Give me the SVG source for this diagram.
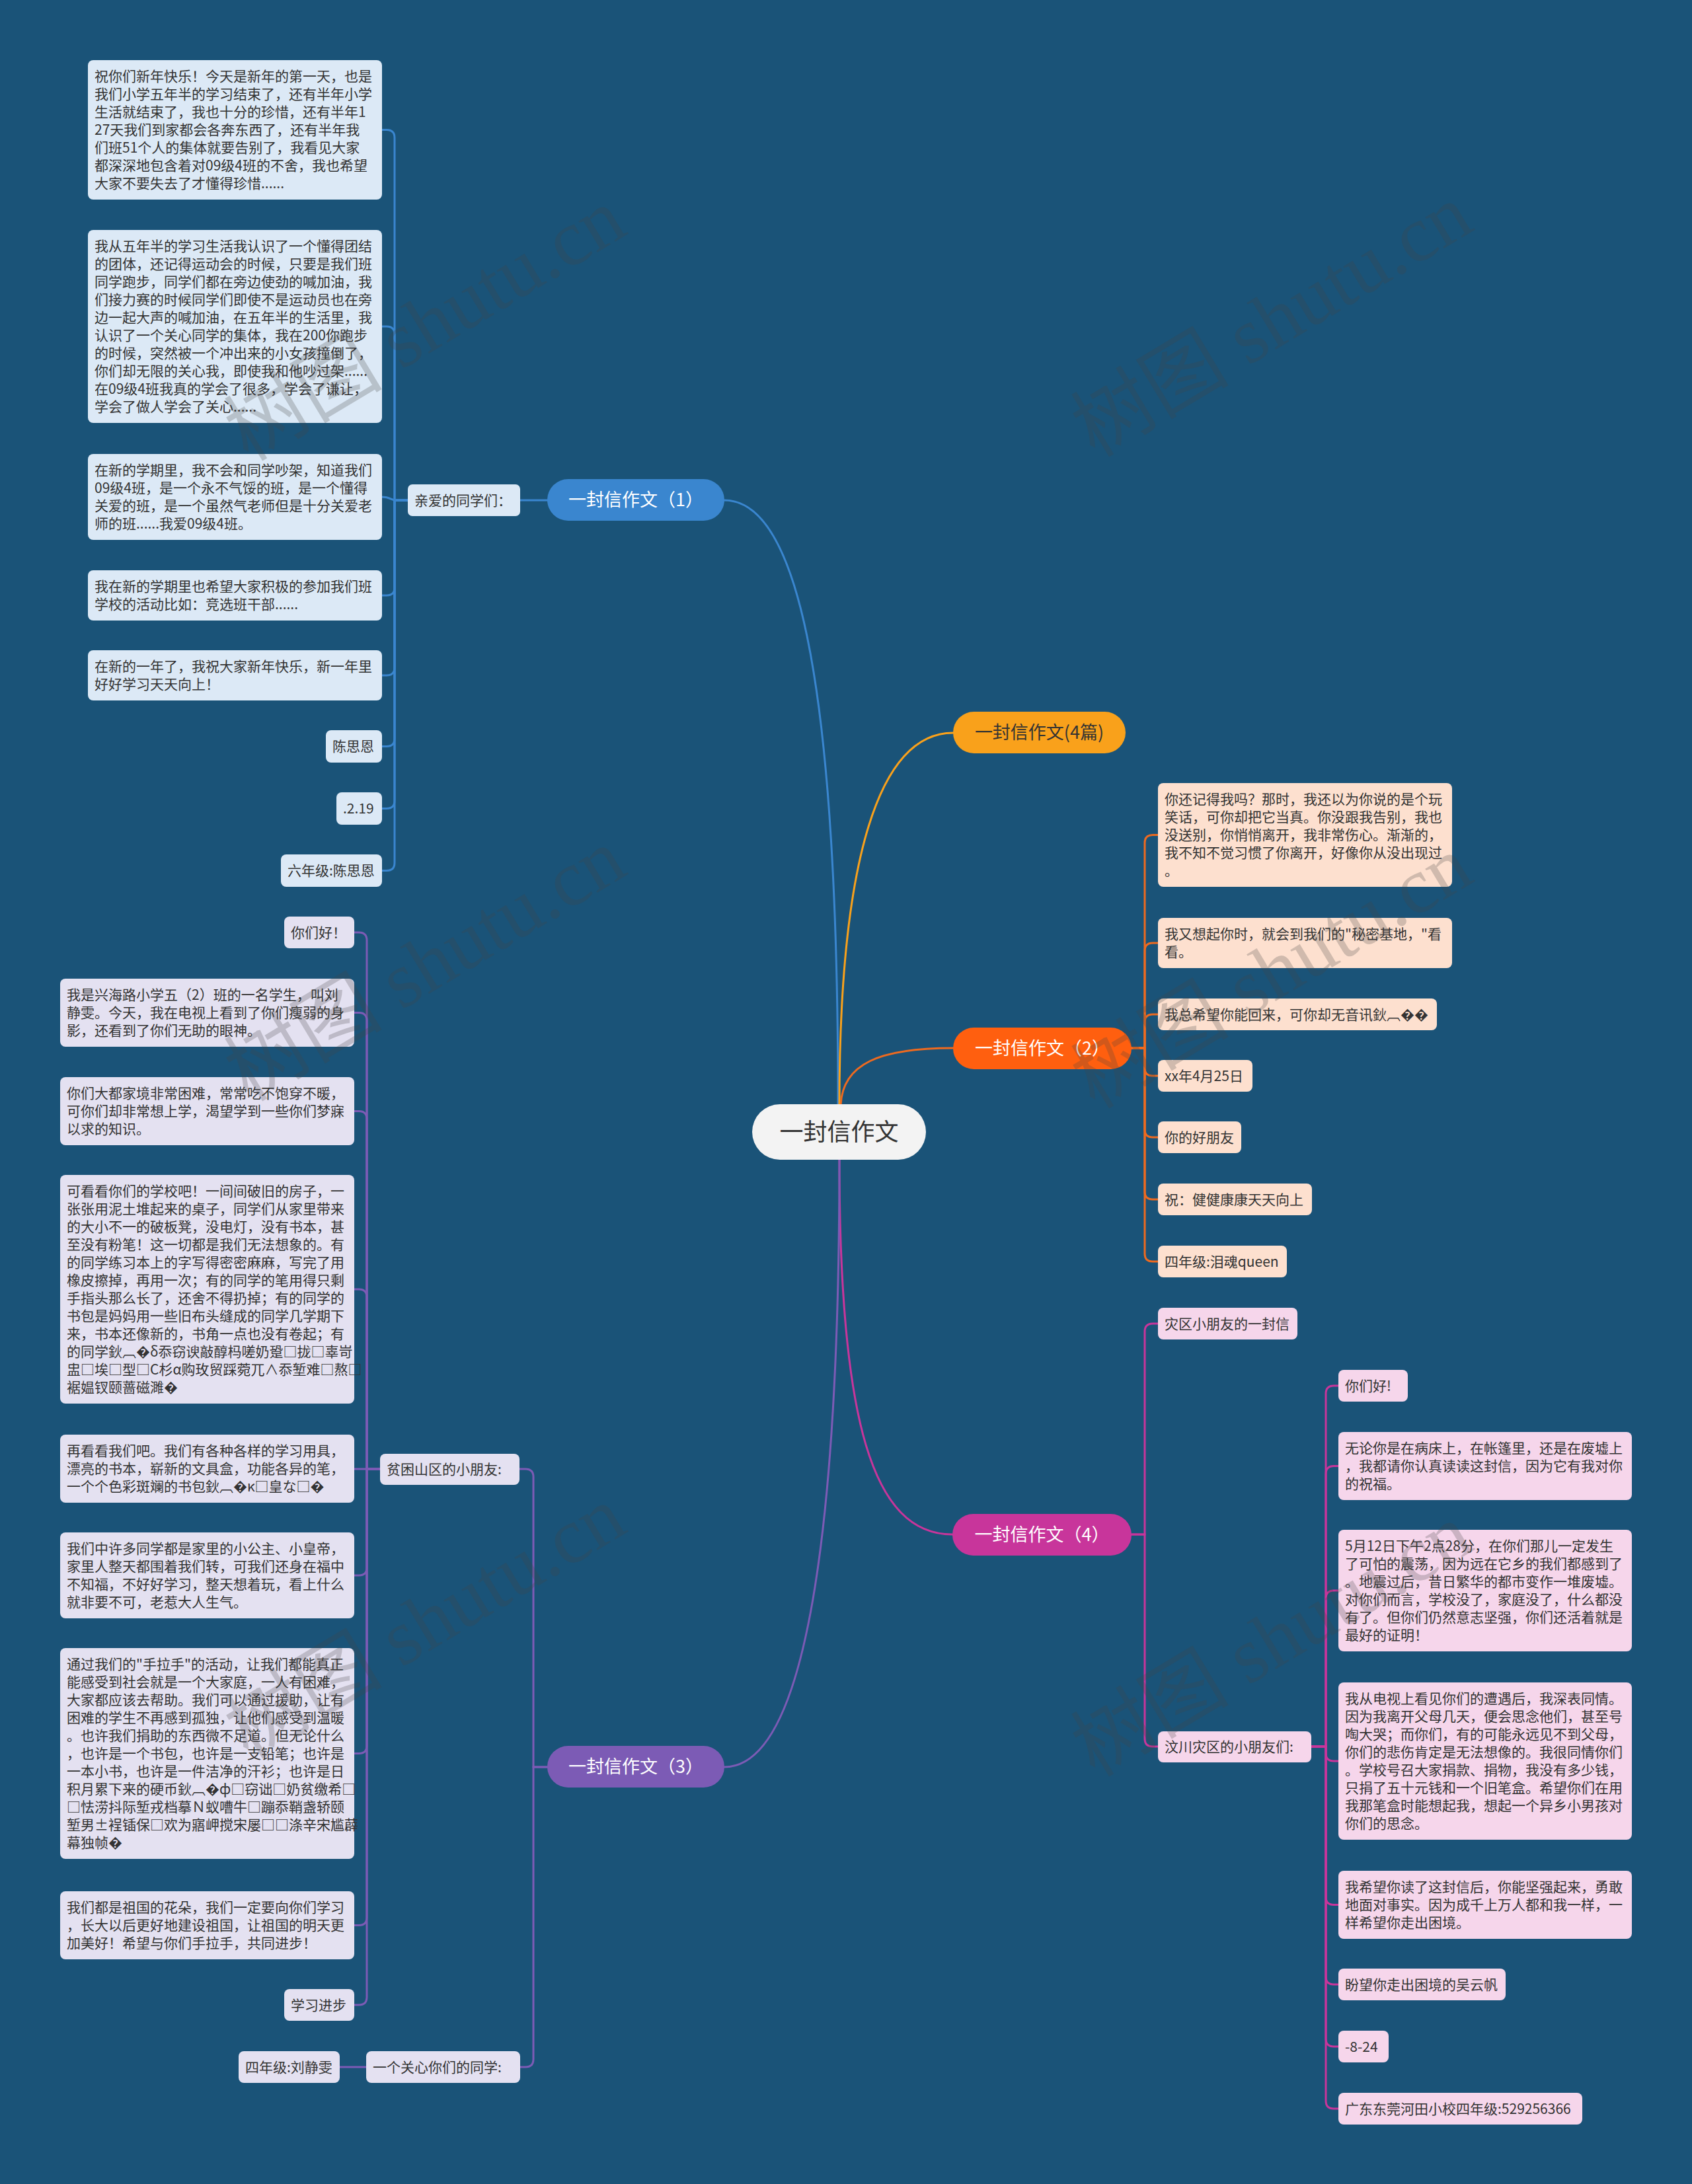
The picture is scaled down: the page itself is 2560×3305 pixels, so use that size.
<svg xmlns="http://www.w3.org/2000/svg" width="2560" height="3305" viewBox="0 0 2560 3305">
<style>
.t{font-family:'Noto Sans CJK SC','Noto Sans',sans-serif;font-size:21px;fill:#333}
.bt{font-family:'Noto Sans CJK SC','Noto Sans',sans-serif;font-size:27px;text-anchor:middle}
.c{fill:none;stroke-width:3;stroke-linecap:round}
.lb{fill:#dce9f6}.lo{fill:#fde0cf}.lm{fill:#f6d6eb}.lp{fill:#e4e1f1}
.wm{font-family:'Liberation Serif','Noto Sans CJK SC',serif;font-size:120px;fill:#444;opacity:0.24;text-anchor:middle}
</style>
<rect width="2560" height="3305" fill="#1a5378"/>
<g id="connectors">
<path class="c" stroke="#3a86cf" d="M1096 757C1200 757 1268 1000 1268 1672"/>
<path class="c" stroke="#f9a11b" d="M1442 1109C1330 1109 1270 1300 1270 1672"/>
<path class="c" stroke="#ee6a1f" d="M1442 1586C1330 1586 1275 1610 1272 1672"/>
<path class="c" stroke="#c8359b" d="M1270 1755C1270 2150 1320 2322 1441 2322"/>
<path class="c" stroke="#7c5bb5" d="M1270 1755C1270 2250 1230 2674 1096 2674"/>
<g stroke="#3a86cf" class="c">
<path class="c" d="M828 757H787"/>
<path class="c" d="M617 757H597V208.5Q597 196.5 585 196.5H578"/>
<path class="c" d="M617 757H597V506Q597 494 585 494H578"/>
<path class="c" d="M617 757H600C590 757 592 752 578 752"/>
<path class="c" d="M617 757H597V889Q597 901 585 901H578"/>
<path class="c" d="M617 757H597V1010Q597 1022 585 1022H578"/>
<path class="c" d="M617 757H597V1117.5Q597 1129.5 585 1129.5H578"/>
<path class="c" d="M617 757H597V1211.5Q597 1223.5 585 1223.5H578"/>
<path class="c" d="M617 757H597V1305.5Q597 1317.5 585 1317.5H578"/>
</g>
<g stroke="#ee6a1f" class="c">
<path class="c" d="M1712 1586H1732V1275.5Q1732 1263.5 1744 1263.5H1752"/>
<path class="c" d="M1712 1586H1732V1439Q1732 1427 1744 1427H1752"/>
<path class="c" d="M1712 1586H1732V1547Q1732 1535 1744 1535H1752"/>
<path class="c" d="M1712 1586H1732V1616Q1732 1628 1744 1628H1752"/>
<path class="c" d="M1712 1586H1732V1709Q1732 1721 1744 1721H1752"/>
<path class="c" d="M1712 1586H1732V1803Q1732 1815 1744 1815H1752"/>
<path class="c" d="M1712 1586H1732V1897Q1732 1909 1744 1909H1752"/>
</g>
<g stroke="#c8359b" class="c">
<path class="c" d="M1712 2322H1732V2015Q1732 2003 1744 2003H1752"/>
<path class="c" d="M1712 2322H1732V2631Q1732 2643 1744 2643H1752"/>
<path class="c" d="M1984 2643H2006V2109Q2006 2097 2018 2097H2025"/>
<path class="c" d="M1984 2643H2006V2230.5Q2006 2218.5 2018 2218.5H2025"/>
<path class="c" d="M1984 2643H2006V2419Q2006 2407 2018 2407H2025"/>
<path class="c" d="M1984 2643H2006V2653Q2006 2665 2018 2665H2025"/>
<path class="c" d="M1984 2643H2006V2870.5Q2006 2882.5 2018 2882.5H2025"/>
<path class="c" d="M1984 2643H2006V2991Q2006 3003 2018 3003H2025"/>
<path class="c" d="M1984 2643H2006V3085Q2006 3097 2018 3097H2025"/>
<path class="c" d="M1984 2643H2006V3179Q2006 3191 2018 3191H2025"/>
</g>
<g stroke="#7c5bb5" class="c">
<path class="c" d="M828 2674H807V2235Q807 2223 795 2223H786"/>
<path class="c" d="M828 2674H807V3116Q807 3128 795 3128H787"/>
<path class="c" d="M554 3128H514"/>
<path class="c" d="M575 2223H555V1423Q555 1411 543 1411H536"/>
<path class="c" d="M575 2223H555V1544.5Q555 1532.5 543 1532.5H536"/>
<path class="c" d="M575 2223H555V1693.5Q555 1681.5 543 1681.5H536"/>
<path class="c" d="M575 2223H555V1963Q555 1951 543 1951H536"/>
<path class="c" d="M575 2223H536"/>
<path class="c" d="M575 2223H555V2372Q555 2384 543 2384H536"/>
<path class="c" d="M575 2223H555V2641.5Q555 2653.5 543 2653.5H536"/>
<path class="c" d="M575 2223H555V2901.5Q555 2913.5 543 2913.5H536"/>
<path class="c" d="M575 2223H555V3022Q555 3034 543 3034H536"/>
</g>
</g>
<g id="root"><rect x="1138" y="1671" width="263" height="84" rx="42" fill="#f3f3f3"/><text x="1269.5" y="1726" font-family="'Noto Sans CJK SC',sans-serif" font-size="36" fill="#333" text-anchor="middle">一封信作文</text></g>
<g id="br1"><rect x="828" y="725" width="268" height="63" rx="31.5" fill="#3a86cf"/><text class="bt" x="962" y="766" fill="#fff">一封信作文（1）</text></g>
<g id="br0"><rect x="1442" y="1077" width="261" height="63" rx="31.5" fill="#f9a11b"/><text class="bt" x="1572.5" y="1118" fill="#333">一封信作文(4篇)</text></g>
<g id="br2"><rect x="1442" y="1555" width="270" height="63" rx="31.5" fill="#ff5f0f"/><text class="bt" x="1577" y="1596" fill="#fff">一封信作文（2）</text></g>
<g id="br4"><rect x="1441" y="2291" width="271" height="63" rx="31.5" fill="#c8359b"/><text class="bt" x="1576.5" y="2332" fill="#fff">一封信作文（4）</text></g>
<g id="br3"><rect x="828" y="2642" width="268" height="63" rx="31.5" fill="#7c5bb5"/><text class="bt" x="962" y="2683" fill="#fff">一封信作文（3）</text></g>

<g id="b1-sub"><rect class="lb" x="617" y="733" width="170" height="48" rx="7"/><text class="t" x="627" y="765">亲爱的同学们：</text></g>
<g id="b1a"><rect class="lb" x="133" y="91" width="445" height="211" rx="8"/><text class="t"><tspan x="143" y="123">祝你们新年快乐！今天是新年的第一天，也是</tspan><tspan x="143" y="150">我们小学五年半的学习结束了，还有半年小学</tspan><tspan x="143" y="177">生活就结束了，我也十分的珍惜，还有半年1</tspan><tspan x="143" y="204">27天我们到家都会各奔东西了，还有半年我</tspan><tspan x="143" y="231">们班51个人的集体就要告别了，我看见大家</tspan><tspan x="143" y="258">都深深地包含着对09级4班的不舍，我也希望</tspan><tspan x="143" y="285">大家不要失去了才懂得珍惜......</tspan></text></g>
<g id="b1b"><rect class="lb" x="133" y="348" width="445" height="292" rx="8"/><text class="t"><tspan x="143" y="380">我从五年半的学习生活我认识了一个懂得团结</tspan><tspan x="143" y="407">的团体，还记得运动会的时候，只要是我们班</tspan><tspan x="143" y="434">同学跑步，同学们都在旁边使劲的喊加油，我</tspan><tspan x="143" y="461">们接力赛的时候同学们即使不是运动员也在旁</tspan><tspan x="143" y="488">边一起大声的喊加油，在五年半的生活里，我</tspan><tspan x="143" y="515">认识了一个关心同学的集体，我在200你跑步</tspan><tspan x="143" y="542">的时候，突然被一个冲出来的小女孩撞倒了，</tspan><tspan x="143" y="569">你们却无限的关心我，即使我和他吵过架......</tspan><tspan x="143" y="596">在09级4班我真的学会了很多，学会了谦让，</tspan><tspan x="143" y="623">学会了做人学会了关心......</tspan></text></g>
<g id="b1c"><rect class="lb" x="133" y="687" width="445" height="130" rx="8"/><text class="t"><tspan x="143" y="719">在新的学期里，我不会和同学吵架，知道我们</tspan><tspan x="143" y="746">09级4班，是一个永不气馁的班，是一个懂得</tspan><tspan x="143" y="773">关爱的班，是一个虽然气老师但是十分关爱老</tspan><tspan x="143" y="800">师的班......我爱09级4班。</tspan></text></g>
<g id="b1d"><rect class="lb" x="133" y="863" width="445" height="76" rx="8"/><text class="t"><tspan x="143" y="895">我在新的学期里也希望大家积极的参加我们班</tspan><tspan x="143" y="922">学校的活动比如：竞选班干部......</tspan></text></g>
<g id="b1e"><rect class="lb" x="133" y="984" width="445" height="76" rx="8"/><text class="t"><tspan x="143" y="1016">在新的一年了，我祝大家新年快乐，新一年里</tspan><tspan x="143" y="1043">好好学习天天向上！</tspan></text></g>
<g id="b1f"><rect class="lb" x="493" y="1105" width="85" height="49" rx="8"/><text class="t" x="503" y="1137">陈思恩</text></g>
<g id="b1g"><rect class="lb" x="509" y="1199" width="69" height="49" rx="8"/><text class="t" x="519" y="1231">.2.19</text></g>
<g id="b1h"><rect class="lb" x="425" y="1293" width="153" height="49" rx="8"/><text class="t" x="435" y="1325">六年级:陈思恩</text></g>

<g id="b2a"><rect class="lo" x="1752" y="1185" width="445" height="157" rx="8"/><text class="t"><tspan x="1762" y="1217">你还记得我吗？那时，我还以为你说的是个玩</tspan><tspan x="1762" y="1244">笑话，可你却把它当真。你没跟我告别，我也</tspan><tspan x="1762" y="1271">没送别，你悄悄离开，我非常伤心。渐渐的，</tspan><tspan x="1762" y="1298">我不知不觉习惯了你离开，好像你从没出现过</tspan><tspan x="1762" y="1325">。</tspan></text></g>
<g id="b2b"><rect class="lo" x="1752" y="1389" width="445" height="76" rx="8"/><text class="t"><tspan x="1762" y="1421">我又想起你时，就会到我们的"秘密基地，"看</tspan><tspan x="1762" y="1448">看。</tspan></text></g>
<g id="b2c"><rect class="lo" x="1752" y="1511" width="422" height="48" rx="8"/><text class="t" x="1762" y="1543">我总希望你能回来，可你却无音讯鈥︹��</text></g>
<g id="b2d"><rect class="lo" x="1752" y="1604" width="143" height="48" rx="8"/><text class="t" x="1762" y="1636">xx年4月25日</text></g>
<g id="b2e"><rect class="lo" x="1752" y="1697" width="126" height="48" rx="8"/><text class="t" x="1762" y="1729">你的好朋友</text></g>
<g id="b2f"><rect class="lo" x="1752" y="1791" width="233" height="48" rx="8"/><text class="t" x="1762" y="1823">祝：健健康康天天向上</text></g>
<g id="b2g"><rect class="lo" x="1752" y="1885" width="195" height="48" rx="8"/><text class="t" x="1762" y="1917">四年级:泪魂queen</text></g>

<g id="b4a"><rect class="lm" x="1752" y="1979" width="211" height="48" rx="8"/><text class="t" x="1762" y="2011">灾区小朋友的一封信</text></g>
<g id="b4b"><rect class="lm" x="1752" y="2620" width="232" height="47" rx="8"/><text class="t" x="1762" y="2651">汶川灾区的小朋友们:</text></g>
<g id="b4b1"><rect class="lm" x="2025" y="2073" width="105" height="48" rx="8"/><text class="t" x="2035" y="2105">你们好!</text></g>
<g id="b4b2"><rect class="lm" x="2025" y="2167" width="444" height="103" rx="8"/><text class="t"><tspan x="2035" y="2199">无论你是在病床上，在帐篷里，还是在废墟上</tspan><tspan x="2035" y="2226">，我都请你认真读读这封信，因为它有我对你</tspan><tspan x="2035" y="2253">的祝福。</tspan></text></g>
<g id="b4b3"><rect class="lm" x="2025" y="2315" width="444" height="184" rx="8"/><text class="t"><tspan x="2035" y="2347">5月12日下午2点28分，在你们那儿一定发生</tspan><tspan x="2035" y="2374">了可怕的震荡，因为远在它乡的我们都感到了</tspan><tspan x="2035" y="2401">。地震过后，昔日繁华的都市变作一堆废墟。</tspan><tspan x="2035" y="2428">对你们而言，学校没了，家庭没了，什么都没</tspan><tspan x="2035" y="2455">有了。但你们仍然意志坚强，你们还活着就是</tspan><tspan x="2035" y="2482">最好的证明！</tspan></text></g>
<g id="b4b4"><rect class="lm" x="2025" y="2546" width="444" height="238" rx="8"/><text class="t"><tspan x="2035" y="2578">我从电视上看见你们的遭遇后，我深表同情。</tspan><tspan x="2035" y="2605">因为我离开父母几天，便会思念他们，甚至号</tspan><tspan x="2035" y="2632">啕大哭；而你们，有的可能永远见不到父母，</tspan><tspan x="2035" y="2659">你们的悲伤肯定是无法想像的。我很同情你们</tspan><tspan x="2035" y="2686">。学校号召大家捐款、捐物，我没有多少钱，</tspan><tspan x="2035" y="2713">只捐了五十元钱和一个旧笔盒。希望你们在用</tspan><tspan x="2035" y="2740">我那笔盒时能想起我，想起一个异乡小男孩对</tspan><tspan x="2035" y="2767">你们的思念。</tspan></text></g>
<g id="b4b5"><rect class="lm" x="2025" y="2831" width="444" height="103" rx="8"/><text class="t"><tspan x="2035" y="2863">我希望你读了这封信后，你能坚强起来，勇敢</tspan><tspan x="2035" y="2890">地面对事实。因为成千上万人都和我一样，一</tspan><tspan x="2035" y="2917">样希望你走出困境。</tspan></text></g>
<g id="b4b6"><rect class="lm" x="2025" y="2979" width="253" height="48" rx="8"/><text class="t" x="2035" y="3011">盼望你走出困境的吴云帆</text></g>
<g id="b4b7"><rect class="lm" x="2025" y="3073" width="76" height="48" rx="8"/><text class="t" x="2035" y="3105">-8-24</text></g>
<g id="b4b8"><rect class="lm" x="2025" y="3167" width="369" height="48" rx="8"/><text class="t" x="2035" y="3199">广东东莞河田小校四年级:529256366</text></g>

<g id="b3a"><rect class="lp" x="575" y="2200" width="211" height="47" rx="8"/><text class="t" x="585" y="2231">贫困山区的小朋友:</text></g>
<g id="b3b"><rect class="lp" x="554" y="3104" width="233" height="48" rx="8"/><text class="t" x="564" y="3136">一个关心你们的同学:</text></g>
<g id="b3b1"><rect class="lp" x="361" y="3104" width="153" height="48" rx="8"/><text class="t" x="371" y="3136">四年级:刘静雯</text></g>
<g id="b3a1"><rect class="lp" x="430" y="1387" width="106" height="48" rx="8"/><text class="t" x="440" y="1419">你们好！</text></g>
<g id="b3a2"><rect class="lp" x="91" y="1481" width="445" height="103" rx="8"/><text class="t"><tspan x="101" y="1513">我是兴海路小学五（2）班的一名学生，叫刘</tspan><tspan x="101" y="1540">静雯。今天，我在电视上看到了你们瘦弱的身</tspan><tspan x="101" y="1567">影，还看到了你们无助的眼神。</tspan></text></g>
<g id="b3a3"><rect class="lp" x="91" y="1630" width="445" height="103" rx="8"/><text class="t"><tspan x="101" y="1662">你们大都家境非常困难，常常吃不饱穿不暖，</tspan><tspan x="101" y="1689">可你们却非常想上学，渴望学到一些你们梦寐</tspan><tspan x="101" y="1716">以求的知识。</tspan></text></g>
<g id="b3a4"><rect class="lp" x="91" y="1778" width="445" height="346" rx="8"/><text class="t"><tspan x="101" y="1810">可看看你们的学校吧！一间间破旧的房子，一</tspan><tspan x="101" y="1837">张张用泥土堆起来的桌子，同学们从家里带来</tspan><tspan x="101" y="1864">的大小不一的破板凳，没电灯，没有书本，甚</tspan><tspan x="101" y="1891">至没有粉笔！这一切都是我们无法想象的。有</tspan><tspan x="101" y="1918">的同学练习本上的字写得密密麻麻，写完了用</tspan><tspan x="101" y="1945">橡皮擦掉，再用一次；有的同学的笔用得只剩</tspan><tspan x="101" y="1972">手指头那么长了，还舍不得扔掉；有的同学的</tspan><tspan x="101" y="1999">书包是妈妈用一些旧布头缝成的同学几学期下</tspan><tspan x="101" y="2026">来，书本还像新的，书角一点也没有卷起；有</tspan><tspan x="101" y="2053">的同学鈥︹�δ忝窃谀敲醇杩嗟奶跫□拢□辜岢</tspan><tspan x="101" y="2080">盅□埃□型□C杉α购玫贸踩菀兀∧忝堑难□熬□</tspan><tspan x="101" y="2107">裾媪钗颐蔷磁濉�</tspan></text></g>
<g id="b3a5"><rect class="lp" x="91" y="2171" width="445" height="103" rx="8"/><text class="t"><tspan x="101" y="2203">再看看我们吧。我们有各种各样的学习用具，</tspan><tspan x="101" y="2230">漂亮的书本，崭新的文具盒，功能各异的笔，</tspan><tspan x="101" y="2257">一个个色彩斑斓的书包鈥︹�κ□皇な□�</tspan></text></g>
<g id="b3a6"><rect class="lp" x="91" y="2319" width="445" height="130" rx="8"/><text class="t"><tspan x="101" y="2351">我们中许多同学都是家里的小公主、小皇帝，</tspan><tspan x="101" y="2378">家里人整天都围着我们转，可我们还身在福中</tspan><tspan x="101" y="2405">不知福，不好好学习，整天想着玩，看上什么</tspan><tspan x="101" y="2432">就非要不可，老惹大人生气。</tspan></text></g>
<g id="b3a7"><rect class="lp" x="91" y="2494" width="445" height="319" rx="8"/><text class="t"><tspan x="101" y="2526">通过我们的"手拉手"的活动，让我们都能真正</tspan><tspan x="101" y="2553">能感受到社会就是一个大家庭，一人有困难，</tspan><tspan x="101" y="2580">大家都应该去帮助。我们可以通过援助，让有</tspan><tspan x="101" y="2607">困难的学生不再感到孤独，让他们感受到温暖</tspan><tspan x="101" y="2634">。也许我们捐助的东西微不足道。但无论什么</tspan><tspan x="101" y="2661">，也许是一个书包，也许是一支铅笔；也许是</tspan><tspan x="101" y="2688">一本小书，也许是一件洁净的汗衫；也许是日</tspan><tspan x="101" y="2715">积月累下来的硬币鈥︹�ф□窃诎□奶贫缴希□</tspan><tspan x="101" y="2742">□怯涝抖际堑戎档摹Ｎ蚁嘈牛□蹦忝鞘盏轿颐</tspan><tspan x="101" y="2769">堑男±裎锸保□欢为寤岬搅宋屡□□涤辛宋尴薜</tspan><tspan x="101" y="2796">幕独帧�</tspan></text></g>
<g id="b3a8"><rect class="lp" x="91" y="2862" width="445" height="103" rx="8"/><text class="t"><tspan x="101" y="2894">我们都是祖国的花朵，我们一定要向你们学习</tspan><tspan x="101" y="2921">，长大以后更好地建设祖国，让祖国的明天更</tspan><tspan x="101" y="2948">加美好！希望与你们手拉手，共同进步！</tspan></text></g>
<g id="b3a9"><rect class="lp" x="430" y="3010" width="106" height="48" rx="8"/><text class="t" x="440" y="3042">学习进步</text></g>

<g id="watermarks">
<text class="wm" transform="translate(664 526) rotate(-31)">树图 shutu.cn</text>
<text class="wm" transform="translate(1945 520) rotate(-31)">树图 shutu.cn</text>
<text class="wm" transform="translate(664 1495) rotate(-31)">树图 shutu.cn</text>
<text class="wm" transform="translate(1945 1506) rotate(-31)">树图 shutu.cn</text>
<text class="wm" transform="translate(664 2490) rotate(-31)">树图 shutu.cn</text>
<text class="wm" transform="translate(1945 2517) rotate(-31)">树图 shutu.cn</text>
</g>
</svg>
